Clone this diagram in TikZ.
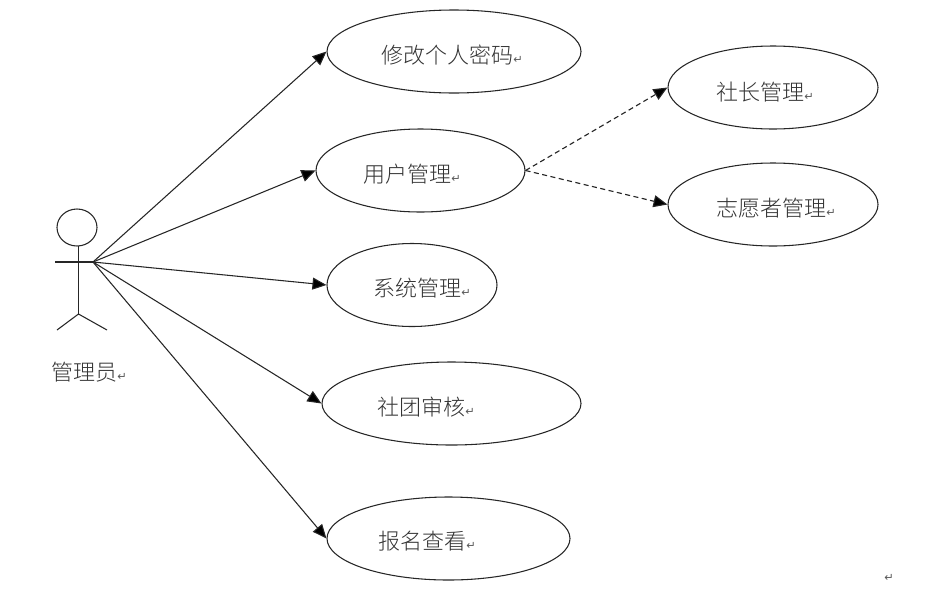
\documentclass[tikz,border=0pt]{standalone}
\usepackage{fontspec}
\usetikzlibrary{shapes.geometric,arrows.meta}
\newfontfamily\cjk{Noto Sans CJK SC}[UprightFont={* Light}]
\newfontfamily\marksym{DejaVu Sans}
\newcommand{\pmark}{{\marksym\fontsize{8.5pt}{9pt}\selectfont\textcolor{black!65}{↵}}}
\tikzset{
  x=0.75pt,y=-0.75pt,
  uc/.style={draw=black!85,line width=0.8pt,shape=ellipse,inner sep=0pt,minimum height=62.25pt},
  lab/.style={anchor=west,inner sep=0pt,text=black!80,font=\cjk\fontsize{16.5pt}{18pt}\selectfont},
  solidarrow/.style={draw=black!85,line width=0.8pt,-{Triangle[length=10.5pt,width=9pt,fill=black]}},
  dasharrow/.style={draw=black!85,line width=0.85pt,dash pattern=on 3.8pt off 2.6pt,-{Triangle[length=10.5pt,width=9pt,fill=black]}},
  stick/.style={draw=black!85,line width=0.8pt}
}
\begin{document}
\begin{tikzpicture}
\useasboundingbox (0,0) rectangle (934,593);
\node[uc,minimum width=190.5pt] (pwd) at (454,51.5) {};
\node[uc,minimum width=156.75pt] (user) at (420.5,170.5) {};
\node[uc,minimum width=127.5pt] (sys) at (412,285) {};
\node[uc,minimum width=194.25pt] (club) at (451.5,403.5) {};
\node[uc,minimum width=182.25pt] (sign) at (448.5,538.5) {};
\node[uc,minimum width=157.5pt] (pres) at (773,87.5) {};
\node[uc,minimum width=157.5pt] (vol) at (773,204.5) {};
\node[lab] (tpwd) at (381,55.5) {修改个人密码\pmark};
\node[lab] (tuser) at (363,174) {用户管理\pmark};
\node[lab] (tsys) at (373,288.5) {系统管理\pmark};
\node[lab] (tclub) at (377,407.5) {社团审核\pmark};
\node[lab] (tsign) at (378,541.5) {报名查看\pmark};
\node[lab] (tpres) at (716,92) {社长管理\pmark};
\node[lab] (tvol) at (716,208) {志愿者管理\pmark};
\node[lab] (tactor) at (51,372.5) {管理员\pmark};
\node[inner sep=0pt] (tend) at (889,578) {\pmark};
% actor
\node[draw=black!85,line width=0.8pt,shape=ellipse,inner sep=0pt,minimum width=30pt,minimum height=27.75pt] (head) at (77,227.5) {};
\coordinate (armL) at (55,262);
\coordinate (hub) at (93,262);
\coordinate (hip) at (78.5,314);
\coordinate (neck) at (78.5,246);
\coordinate (legL) at (57,330);
\coordinate (legR) at (107,330);
\draw[stick] (neck) -- (hip);
\draw[stick] (armL) -- (hub);
\draw[stick] (legL) -- (hip) -- (legR);
% connectors
\draw[solidarrow] (hub) -- (pwd.west);
\draw[solidarrow] (hub) -- (user.west);
\draw[solidarrow] (hub) -- (sys.west);
\draw[solidarrow] (hub) -- (club.west);
\draw[solidarrow] (hub) -- (sign.west);
\draw[dasharrow] (user.east) -- (pres.west);
\draw[dasharrow] (user.east) -- (vol.west);
\end{tikzpicture}
\end{document}
